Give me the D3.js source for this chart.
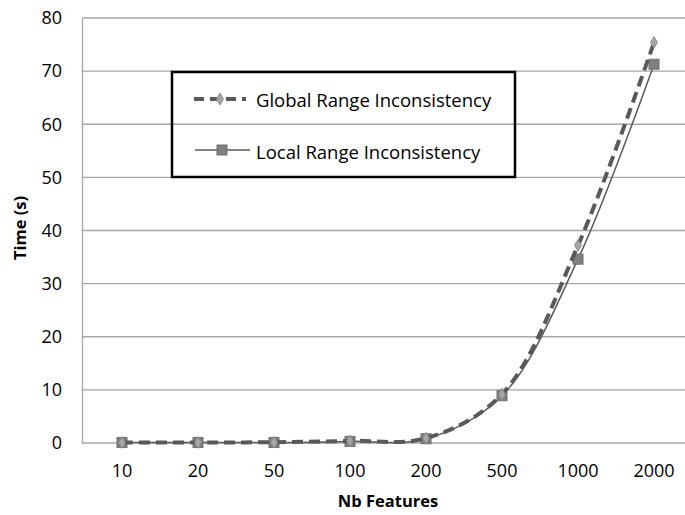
<!DOCTYPE html>
<html>
<head>
<meta charset="utf-8">
<script src="https://cdn.jsdelivr.net/npm/d3@7"></script>
<style>
body { margin: 0; background: #fff; }
text { font-family: "Open Sans", sans-serif; fill: #000; }
</style>
</head>
<body>
<script>
var features = ["10", "20", "50", "100", "200", "500", "1000", "2000"];
var globalRange = [0.1, 0.1, 0.15, 0.4, 0.9, 9.2, 37.2, 75.4];
var localRange = [0.1, 0.1, 0.1, 0.3, 0.8, 8.9, 34.6, 71.3];
var yTicks = [0, 10, 20, 30, 40, 50, 60, 70, 80];

var width = 685;
var height = 515;
var margin = {top: 18, right: 0, bottom: 72, left: 82};

var svg = d3.select("body").append("svg").attr("width", width).attr("height", height);

// categories run a bit past the right edge of the picture, as in the original
var x = d3.scaleBand().domain(features).range([margin.left + 2, width + 7]);
var y = d3.scaleLinear().domain([0, 80]).range([height - margin.bottom, margin.top]);

// grid
svg.append("g")
    .selectAll("line")
    .data(yTicks.slice(1))
    .enter().append("line")
    .attr("x1", margin.left).attr("x2", width)
    .attr("y1", function (d) { return y(d); })
    .attr("y2", function (d) { return y(d); })
    .attr("stroke", "#a6a6a6").attr("stroke-width", 1.3);

var yAxis = svg.append("g")
    .attr("transform", "translate(" + margin.left + ",0)")
    .call(d3.axisLeft(y).tickValues(yTicks).tickSize(0).tickPadding(20));
yAxis.select(".domain").attr("stroke", "#a6a6a6").attr("stroke-width", 1.3);
yAxis.selectAll("text").style("font-size", "18px").attr("font-family", "Open Sans");

var xAxis = svg.append("g")
    .attr("transform", "translate(0," + y(0) + ")")
    .call(d3.axisBottom(x).tickSize(0).tickPadding(21));
xAxis.select(".domain").attr("stroke", "#a6a6a6").attr("stroke-width", 1.3)
    .attr("d", "M" + margin.left + ",0H" + width);
xAxis.selectAll("text").style("font-size", "18px").attr("font-family", "Open Sans");

svg.append("text")
    .attr("transform", "translate(26," + 228 + ") rotate(-90)")
    .attr("text-anchor", "middle")
    .style("font-size", "16.5px").style("font-weight", "bold")
    .text("Time (s)");

svg.append("text")
    .attr("x", 388).attr("y", 507)
    .attr("text-anchor", "middle")
    .style("font-size", "16.5px").style("font-weight", "bold")
    .text("Nb Features");

var line = d3.line()
    .x(function (d, i) { return x(features[i]) + x.bandwidth() / 2; })
    .y(function (d) { return y(d); })
    .curve(d3.curveCatmullRom.alpha(0.5));

// local series
svg.append("path")
    .attr("d", line(localRange))
    .attr("fill", "none").attr("stroke", "#595959").attr("stroke-width", 1.5);

svg.append("g").selectAll("rect")
    .data(localRange)
    .enter().append("rect")
    .attr("x", function (d, i) { return x(features[i]) + x.bandwidth() / 2 - 5; })
    .attr("y", function (d) { return y(d) - 5; })
    .attr("width", 10).attr("height", 10)
    .attr("fill", "#7f7f7f").attr("stroke", "#6f6f6f").attr("stroke-width", 1);

// global series
svg.append("path")
    .attr("d", line(globalRange))
    .attr("fill", "none").attr("stroke", "#595959").attr("stroke-width", 4)
    .attr("stroke-dasharray", "11,6");

var diamond = d3.symbol().type(d3.symbolDiamond).size(40);
svg.append("g").selectAll("path")
    .data(globalRange)
    .enter().append("path")
    .attr("d", diamond)
    .attr("transform", function (d, i) {
        return "translate(" + (x(features[i]) + x.bandwidth() / 2) + "," + y(d) + ")";
    })
    .attr("fill", "#a6a6a6").attr("stroke", "#8c8c8c").attr("stroke-width", 1);

// legend
var legend = svg.append("g");
legend.append("rect")
    .attr("x", 172).attr("y", 72).attr("width", 343).attr("height", 105)
    .attr("fill", "none").attr("stroke", "#000").attr("stroke-width", 2.5);

legend.append("line")
    .attr("x1", 194).attr("x2", 246).attr("y1", 99).attr("y2", 99)
    .attr("stroke", "#595959").attr("stroke-width", 4).attr("stroke-dasharray", "10,6");
legend.append("path")
    .attr("d", diamond)
    .attr("transform", "translate(220,99)")
    .attr("fill", "#a6a6a6").attr("stroke", "#8c8c8c");
legend.append("text")
    .attr("x", 256).attr("y", 107)
    .style("font-size", "18.5px")
    .text("Global Range Inconsistency");

legend.append("line")
    .attr("x1", 195).attr("x2", 250).attr("y1", 150).attr("y2", 150)
    .attr("stroke", "#595959").attr("stroke-width", 1.5);
legend.append("rect")
    .attr("x", 217).attr("y", 145).attr("width", 10).attr("height", 10)
    .attr("fill", "#7f7f7f").attr("stroke", "#6f6f6f");
legend.append("text")
    .attr("x", 256).attr("y", 159)
    .style("font-size", "18.5px")
    .text("Local Range Inconsistency");
</script>
</body>
</html>
